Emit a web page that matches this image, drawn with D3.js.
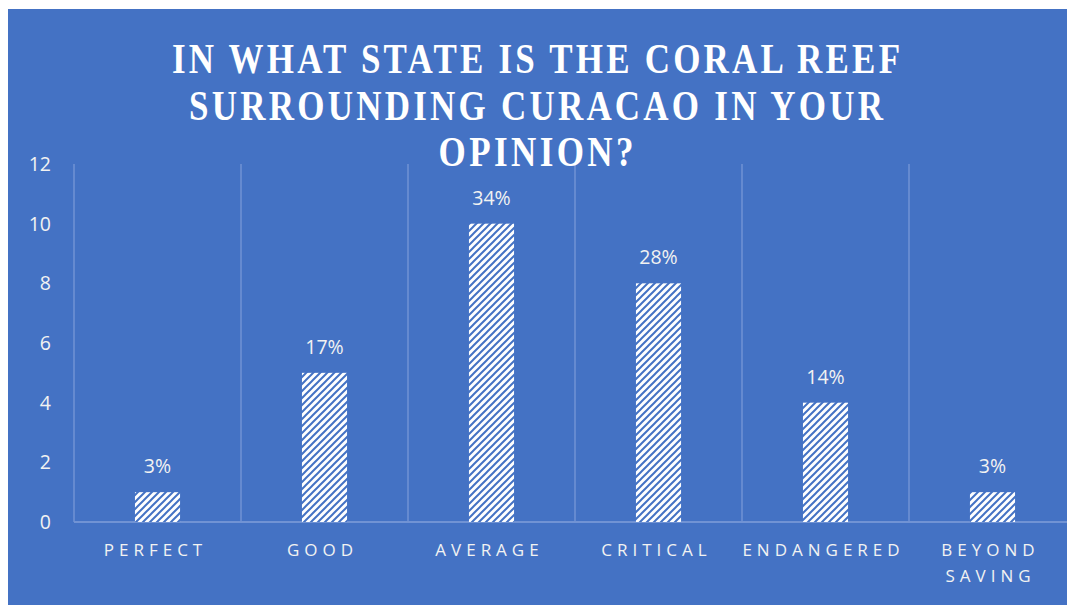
<!DOCTYPE html>
<html>
<head>
  <meta charset="utf-8">
  <title>Coral reef state</title>
  <script src="https://cdn.jsdelivr.net/npm/d3@7"></script>
  <style>
    body { margin: 0; background: #fff; }
    text { fill: #fff; }
    .tick-label { font-family: 'Open Sans', 'Noto Sans', sans-serif; font-size: 19.5px; fill: #f2f2f2; }
    .cat-label { font-family: 'Open Sans', 'Noto Sans', sans-serif; font-size: 17px; letter-spacing: 5px; fill: #f2f2f2; }
    .title { font-family: 'Liberation Serif', serif; font-weight: bold; font-size: 35px; }
  </style>
</head>
<body>
<svg id="chart"></svg>
<script>
  var categories = [['PERFECT'], ['GOOD'], ['AVERAGE'], ['CRITICAL'], ['ENDANGERED'], ['BEYOND', 'SAVING']];
  var counts = [1, 5, 10, 8, 4, 1];
  var percentLabels = ['3%', '17%', '34%', '28%', '14%', '3%'];
  var yTicks = [0, 2, 4, 6, 8, 10, 12];
  var titleLines = ['IN WHAT STATE IS THE CORAL REEF', 'SURROUNDING CURACAO IN YOUR', 'OPINION?'];
  var titleWidths = [728, 694, 195];

  var W = 1067, H = 605;
  var margin = { top: 164, left: 74, bottom: 83, right: -9 };
  var width = W - margin.left - margin.right,
      height = H - margin.top - margin.bottom;

  var svg = d3.select('#chart').attr('width', W).attr('height', H);

  svg.append('rect')
    .attr('x', 8).attr('y', 9)
    .attr('width', W - 8).attr('height', H - 9)
    .attr('fill', '#4472C4');

  var pat = svg.append('defs').append('pattern')
    .attr('id', 'hatch')
    .attr('patternUnits', 'userSpaceOnUse')
    .attr('width', 7).attr('height', 7);
  pat.append('rect').attr('width', 7).attr('height', 7).attr('fill', '#fff');
  pat.append('path')
    .attr('d', 'M0,7 L7,0 M-2,2 L2,-2 M5,9 L9,5')
    .attr('stroke', '#4472C4')
    .attr('stroke-width', 2);

  var g = svg.append('g')
    .attr('transform', 'translate(' + margin.left + ',' + margin.top + ')');

  var x = d3.scaleBand()
    .domain(d3.range(categories.length))
    .range([0, width])
    .paddingInner(0)
    .paddingOuter(0);

  var y = d3.scaleLinear()
    .domain([0, 12])
    .range([height, 0]);

  // vertical gridlines between categories
  g.selectAll('.vgrid')
    .data(d3.range(categories.length + 1))
    .enter()
    .append('line')
    .attr('class', 'vgrid')
    .attr('x1', d => d * x.step())
    .attr('x2', d => d * x.step())
    .attr('y1', 0)
    .attr('y2', height)
    .attr('stroke', '#7193d4')
    .attr('stroke-width', 1.5);

  g.append('line')
    .attr('x1', 0).attr('x2', width)
    .attr('y1', height).attr('y2', height)
    .attr('stroke', '#7193d4')
    .attr('stroke-width', 2);

  var barW = x.bandwidth() * 0.27;

  g.selectAll('.bar')
    .data(counts)
    .enter()
    .append('rect')
    .attr('class', 'bar')
    .attr('x', (d, i) => x(i) + x.bandwidth() / 2 - barW / 2)
    .attr('y', d => y(d))
    .attr('width', barW)
    .attr('height', d => height - y(d))
    .attr('fill', 'url(#hatch)');

  g.selectAll('.pct')
    .data(counts)
    .enter()
    .append('text')
    .attr('class', 'tick-label')
    .attr('x', (d, i) => x(i) + x.bandwidth() / 2)
    .attr('y', d => y(d) - 19)
    .attr('text-anchor', 'middle')
    .text((d, i) => percentLabels[i]);

  g.selectAll('.ytick')
    .data(yTicks)
    .enter()
    .append('text')
    .attr('class', 'tick-label')
    .attr('x', -23)
    .attr('y', d => y(d) + 7)
    .attr('text-anchor', 'end')
    .text(d => d);

  var cat = g.selectAll('.cat')
    .data(categories)
    .enter()
    .append('text')
    .attr('class', 'cat-label')
    .attr('text-anchor', 'middle')
    .attr('y', height + 34);

  cat.selectAll('tspan')
    .data((d, i) => d.map(s => ({ s: s, i: i })))
    .enter()
    .append('tspan')
    .attr('x', d => x(d.i) + x.bandwidth() / 2 - 2)
    .attr('dy', (d, j) => j === 0 ? 0 : 26)
    .text(d => d.s);

  // title: taller glyphs via a vertical stretch, letters spread to the widths seen in the picture
  var titleG = svg.selectAll('.title-line')
    .data(titleLines)
    .enter()
    .append('g')
    .attr('transform', (d, i) => 'translate(536,' + (73 + i * 46.5) + ') scale(1,1.18)');

  titleG.append('text')
    .attr('class', 'title')
    .attr('x', 0)
    .attr('y', 0)
    .attr('text-anchor', 'middle')
    .text(d => d)
    .each(function(d, i) {
      var t = d3.select(this);
      var natural = this.getComputedTextLength();
      var ls = (titleWidths[i] - natural) / (d.length - 1);
      if (ls >= 0) {
        t.style('letter-spacing', ls + 'px');
        t.attr('x', ls / 2);
      } else {
        t.attr('textLength', titleWidths[i]).attr('lengthAdjust', 'spacingAndGlyphs');
      }
    });
</script>
</body>
</html>
